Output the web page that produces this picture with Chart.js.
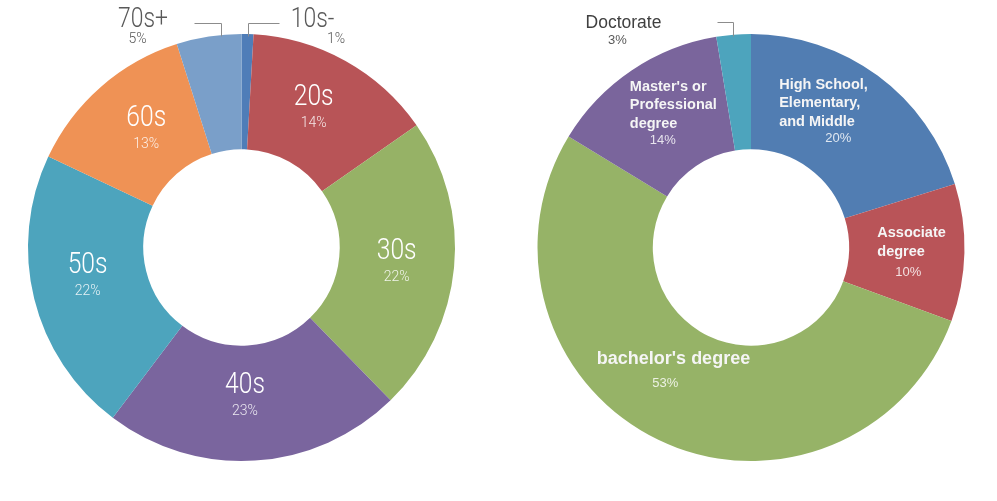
<!DOCTYPE html>
<html>
<head>
<meta charset="utf-8">
<script src="https://cdn.jsdelivr.net/npm/chart.js@4.4.1/dist/chart.umd.min.js"></script>
<style>
  html, body { margin: 0; padding: 0; background: #fff; }
  #wrap { position: relative; width: 997px; height: 501px; }
  #c1 { position: absolute; left: 0; top: 0; }
  #c2 { position: absolute; left: 498px; top: 0; }
</style>
</head>
<body>
<div id="wrap">
  <canvas id="c1" width="498" height="501"></canvas>
  <canvas id="c2" width="499" height="501"></canvas>
</div>
<script>
// age groups (shares in %, labels show them rounded)
const ageLabels = ['10s-', '20s', '30s', '40s', '50s', '60s', '70s+'];
const ageValues = [0.9, 14.4, 22.4, 22.6, 21.7, 13.1, 4.9];
const ageColors = ['#4F7DB8', '#B85457', '#96B266', '#7A659E', '#4DA4BD', '#EF9255', '#7A9FC9'];

// education
const eduLabels = [['High School,', 'Elementary,', 'and Middle'], ['Associate', 'degree'], ["bachelor's degree"], ["Master's or", 'Professional', 'degree'], ['Doctorate']];
const eduValues = [20.2, 10.4, 53.1, 13.7, 2.6];
const eduColors = ['#517DB2', '#B95458', '#96B367', '#7A659C', '#4DA4BD'];

// label placement (offset from slice centroid, or from chart centre for outside ones)
const ageLabelPos = [
  {out: true, x: 71, y: -220.5, px: 94.5, py: -204.5, line: [[37, -225], [6, -225], [6, -212]]},
  {dx: -3.8, dy: -6.2},
  {dx: 0, dy: -3.6},
  {dx: -6.3, dy: -10.2},
  {dx: -2.6, dy: -11.4},
  {dx: 7.4, dy: -4},
  {out: true, x: -98.5, y: -220.5, px: -104, py: -204.5, line: [[-48, -225], [-21, -225], [-21, -212]]}
];
const eduLabelPos = [
  {dx: -64.2, dy: -33.3, px: 59, gap: 16},
  {dx: -29.5, dy: -14.4, px: 31, gap: 20},
  {dx: -86.5, dy: -23.6, px: 68.5, gap: 23, big: true},
  {dx: -34, dy: -27.6, px: 33, gap: 16},
  {out: true, x: -127.5, y: -220, px: -133.5, py: -204, line: [[-34, -226], [-18, -226], [-18, -212]]}
];

const catFont = '300 29px Roboto, "Noto Sans CJK JP", sans-serif';
const outFont = '300 27px Roboto, "Noto Sans CJK JP", sans-serif';
const pctFont = '300 14px Roboto, "Noto Sans CJK JP", sans-serif';

function centroid(arc) {
  const p = arc.getProps(['x', 'y', 'startAngle', 'endAngle', 'innerRadius', 'outerRadius'], true);
  const a = (p.startAngle + p.endAngle) / 2;
  const r = (p.innerRadius + p.outerRadius) / 2;
  return {x: p.x + Math.cos(a) * r, y: p.y + Math.sin(a) * r, cx: p.x, cy: p.y};
}

// narrow text (the original font is tall and condensed)
function narrowText(ctx, t, x, y, sx) {
  ctx.save();
  ctx.translate(x, y);
  ctx.scale(sx, 1);
  ctx.fillText(t, 0, 0);
  ctx.restore();
}

function drawLeader(ctx, c, pts) {
  ctx.save();
  ctx.strokeStyle = '#8c8c8c';
  ctx.lineWidth = 1;
  ctx.beginPath();
  pts.forEach((pt, i) => {
    const x = Math.round(c.cx + pt[0]) + 0.5, y = Math.round(c.cy + pt[1]) + 0.5;
    if (i === 0) ctx.moveTo(x, y); else ctx.lineTo(x, y);
  });
  ctx.stroke();
  ctx.restore();
}

const ageLabelPlugin = {
  id: 'ageLabels',
  afterDatasetsDraw(chart) {
    const ctx = chart.ctx;
    const meta = chart.getDatasetMeta(0);
    ctx.save();
    ctx.textAlign = 'center';
    ctx.textBaseline = 'alphabetic';
    meta.data.forEach((arc, i) => {
      const c = centroid(arc);
      const pos = ageLabelPos[i];
      const pct = Math.round(ageValues[i]) + '%';
      if (pos.out) {
        drawLeader(ctx, c, pos.line);
        ctx.fillStyle = '#595959';
        ctx.font = outFont;
        narrowText(ctx, ageLabels[i], c.cx + pos.x, c.cy + pos.y, 0.85);
        ctx.font = pctFont;
        ctx.fillText(pct, c.cx + pos.px, c.cy + pos.py);
      } else {
        const x = c.x + pos.dx, y = c.y + pos.dy;
        ctx.fillStyle = '#ffffff';
        ctx.font = catFont;
        narrowText(ctx, ageLabels[i], x, y, 0.85);
        ctx.fillStyle = 'rgba(255,255,255,0.85)';
        ctx.font = pctFont;
        ctx.fillText(pct, x, y + 22);
      }
    });
    ctx.restore();
  }
};

const eduLabelPlugin = {
  id: 'eduLabels',
  afterDatasetsDraw(chart) {
    const ctx = chart.ctx;
    const meta = chart.getDatasetMeta(0);
    ctx.save();
    ctx.textBaseline = 'alphabetic';
    meta.data.forEach((arc, i) => {
      const c = centroid(arc);
      const pos = eduLabelPos[i];
      const pct = Math.round(eduValues[i]) + '%';
      if (pos.out) {
        drawLeader(ctx, c, pos.line);
        ctx.textAlign = 'center';
        ctx.fillStyle = '#404040';
        ctx.font = '17.5px "Liberation Sans", Arial, sans-serif';
        ctx.fillText(eduLabels[i][0], c.cx + pos.x, c.cy + pos.y);
        ctx.fillStyle = '#595959';
        ctx.font = '13px "Liberation Sans", Arial, sans-serif';
        ctx.fillText(pct, c.cx + pos.px, c.cy + pos.py);
      } else {
        const x = c.x + pos.dx;
        let y = c.y + pos.dy;
        ctx.textAlign = 'left';
        ctx.fillStyle = '#f5f5f5';
        ctx.font = 'bold ' + (pos.big ? 18 : 14.5) + 'px "Liberation Sans", Arial, sans-serif';
        eduLabels[i].forEach((ln, k) => {
          ctx.fillText(ln, x, y + k * 18.5);
        });
        const last = y + (eduLabels[i].length - 1) * 18.5;
        ctx.textAlign = 'center';
        ctx.fillStyle = 'rgba(255,255,255,0.82)';
        ctx.font = '13px "Liberation Sans", Arial, sans-serif';
        ctx.fillText(pct, x + pos.px, last + pos.gap);
      }
    });
    ctx.restore();
  }
};

function donut(id, labels, values, colors, padding, plugin) {
  return new Chart(document.getElementById(id), {
    type: 'doughnut',
    data: {
      labels: labels,
      datasets: [{
        data: values,
        backgroundColor: colors,
        borderWidth: 0,
        hoverBorderWidth: 0,
        hoverOffset: 0
      }]
    },
    options: {
      responsive: false,
      animation: false,
      events: [],
      cutout: '46%',
      layout: { padding: padding },
      plugins: {
        legend: { display: false },
        tooltip: { enabled: false }
      }
    },
    plugins: [plugin]
  });
}

donut('c1', ageLabels, ageValues, ageColors, {left: 28, right: 43, top: 34, bottom: 40}, ageLabelPlugin);
donut('c2', eduLabels, eduValues, eduColors, {left: 39.5, right: 32.5, top: 34, bottom: 40}, eduLabelPlugin);
</script>
</body>
</html>
